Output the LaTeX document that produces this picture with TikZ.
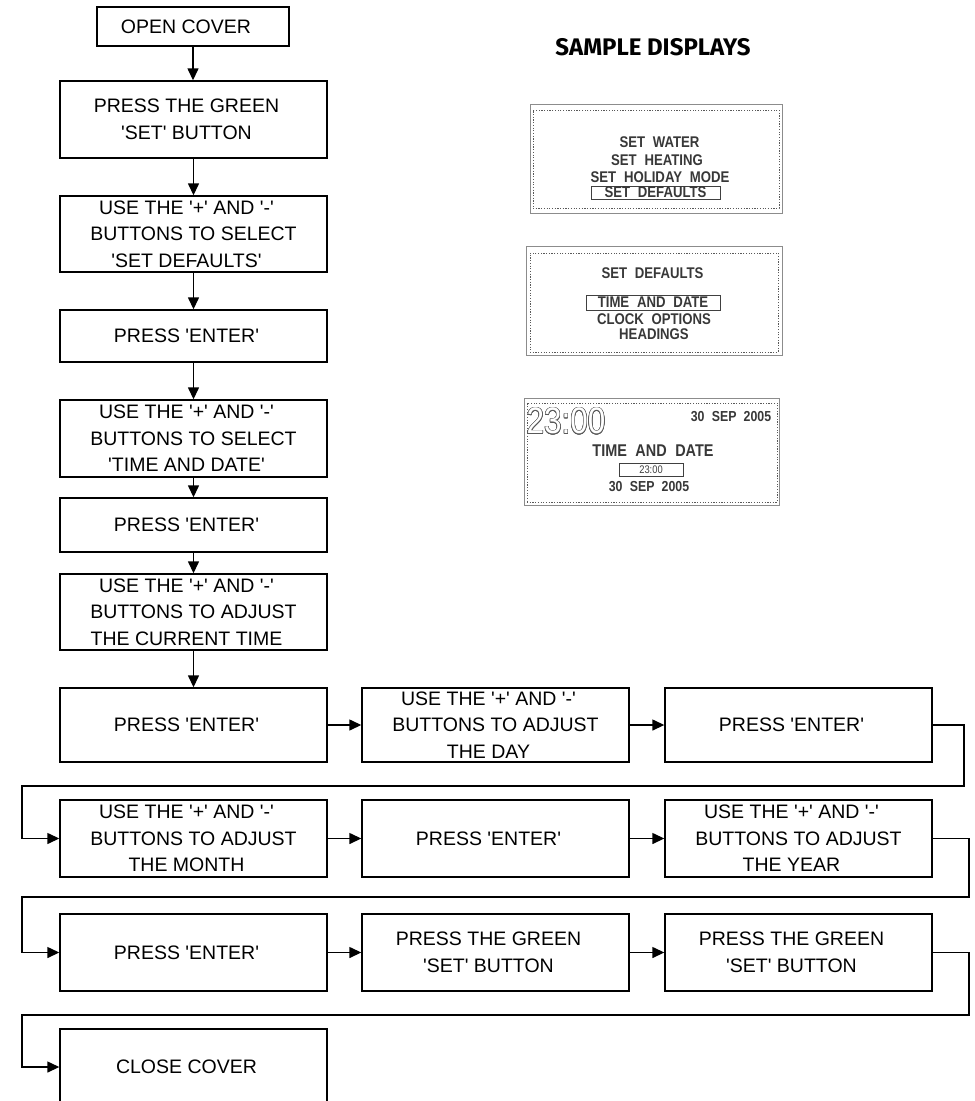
\documentclass[tikz,border=0pt]{standalone}
\usepackage{fontspec}
\setmainfont{Liberation Sans}[Ligatures=TeXOff]
\newfontfamily\lcd{Liberation Sans}[Ligatures=TeXOff]
\newfontfamily\lcdn{Liberation Sans}[Ligatures=TeXOff,FakeStretch=0.85]
\newfontfamily\headfont{Fira Sans}[Ligatures=TeXOff]
\usepackage{contour}
\contourlength{0.6pt}
\usetikzlibrary{arrows.meta}
\newcommand\tsp{\hspace*{14pt}}
\begin{document}
\begin{tikzpicture}[x=1pt,y=-1pt,
  box/.style={draw, line width=1.4pt, minimum width=267pt, inner sep=0pt, align=center,
    font=\fontsize{19.5}{26.5}\selectfont},
  arr/.style={line width=1.4pt, -{Triangle[length=12pt,width=11pt]}},
  frameout/.style={draw=black!45, line width=0.8pt, inner sep=0pt},
  framein/.style={draw=black!65, line width=0.9pt, dash pattern=on 1.2pt off 1.5pt, inner sep=0pt},
  lcdtxt/.style={inner sep=0pt, text=black!78, font=\lcdn\bfseries\fontsize{15.5}{15.5}\selectfont},
  lcdntxt/.style={inner sep=0pt, text=black!78, font=\lcdn\bfseries\fontsize{14.5}{14.5}\selectfont},
  hl/.style={draw=black!75, line width=0.9pt, inner sep=0pt}
]
\useasboundingbox (0,0) rectangle (975,1101);
\clip (0,0) rectangle (975,1101);
\fill[white] (0,0) rectangle (975,1101);

% ---- left column ----
\node[box, minimum width=192pt, minimum height=39pt] (b1) at (193,26.5) {OPEN COVER\tsp};
\node[box, minimum height=77pt] (b2) at (193.5,119.5) {PRESS THE GREEN\tsp\\'SET' BUTTON\tsp};
\node[box, minimum height=76pt] (b3) at (193.5,234) {USE THE '+' AND '-'\tsp\\BUTTONS TO SELECT\tsp\\'SET DEFAULTS'\tsp};
\node[box, minimum height=52pt] (b4) at (193.5,336) {PRESS 'ENTER'\tsp};
\node[box, minimum height=77pt] (b5) at (193.5,438.5) {USE THE '+' AND '-'\tsp\\BUTTONS TO SELECT\tsp\\'TIME AND DATE'\tsp};
\node[box, minimum height=54pt] (b6) at (193.5,525) {PRESS 'ENTER'\tsp};
\node[box, minimum height=76pt] (b7) at (193.5,612) {USE THE '+' AND '-'\tsp\\BUTTONS TO ADJUST\tsp\\THE CURRENT TIME\tsp};

% ---- rows ----
\node[box, minimum height=74pt] (r1a) at (193.5,725) {PRESS 'ENTER'\tsp};
\node[box, minimum height=74pt] (r1b) at (495.5,725) {USE THE '+' AND '-'\tsp\\BUTTONS TO ADJUST\tsp\\THE DAY\tsp};
\node[box, minimum height=74pt] (r1c) at (798.5,725) {PRESS 'ENTER'\tsp};

\node[box, minimum height=77pt] (r2a) at (193.5,838.5) {USE THE '+' AND '-'\tsp\\BUTTONS TO ADJUST\tsp\\THE MONTH\tsp};
\node[box, minimum height=77pt] (r2b) at (495.5,838.5) {PRESS 'ENTER'\tsp};
\node[box, minimum height=77pt] (r2c) at (798.5,838.5) {USE THE '+' AND '-'\tsp\\BUTTONS TO ADJUST\tsp\\THE YEAR\tsp};

\node[box, minimum height=77pt] (r3a) at (193.5,952.5) {PRESS 'ENTER'\tsp};
\node[box, minimum height=77pt] (r3b) at (495.5,952.5) {PRESS THE GREEN\tsp\\'SET' BUTTON\tsp};
\node[box, minimum height=77pt] (r3c) at (798.5,952.5) {PRESS THE GREEN\tsp\\'SET' BUTTON\tsp};

\node[box, minimum height=76pt] (r4) at (193.5,1067) {CLOSE COVER\tsp};

% ---- connectors ----
\draw[arr] (b1.south) -- (b1.south |- b2.north);
\draw[arr] (b2) -- (b3);
\draw[arr] (b3) -- (b4);
\draw[arr] (b4) -- (b5);
\draw[arr] (b5) -- (b6);
\draw[arr] (b6) -- (b7);
\draw[arr] (b7) -- (r1a);
\draw[arr] (r1a) -- (r1b);
\draw[arr] (r1b) -- (r1c);
\draw[arr] (r1c.east) -- (964,725) -- (964,786) -- (22,786) -- (22,838.5) -- (r2a.west);
\draw[arr] (r2a) -- (r2b);
\draw[arr] (r2b) -- (r2c);
\draw[arr] (r2c.east) -- (969,838.5) -- (969,897) -- (22,897) -- (22,952.5) -- (r3a.west);
\draw[arr] (r3a) -- (r3b);
\draw[arr] (r3b) -- (r3c);
\draw[arr] (r3c.east) -- (969,952.5) -- (969,1015) -- (22,1015) -- (22,1067) -- (r4.west);

% ---- sample displays ----
\node[font=\headfont\bfseries\fontsize{24}{24}\selectfont, inner sep=0pt] (title) at (653,47) {SAMPLE DISPLAYS};

% display 1
\node[frameout, minimum width=252pt, minimum height=109pt] (d1o) at (656,158.5) {};
\node[framein, minimum width=246pt, minimum height=98pt] (d1i) at (656,159) {};
\node[lcdtxt] (d1a) at (659.5,142.5) {SET\enspace WATER};
\node[lcdtxt] (d1b) at (657,160) {SET\enspace HEATING};
\node[lcdtxt] (d1c) at (660,177.5) {SET\enspace HOLIDAY\enspace MODE};
\node[lcdtxt, hl, minimum width=129pt, minimum height=13pt] (d1d) at (655.5,192.5) {SET\enspace DEFAULTS};

% display 2
\node[frameout, minimum width=256pt, minimum height=109pt] (d2o) at (654,300.5) {};
\node[framein, minimum width=248pt, minimum height=99pt] (d2i) at (654,302.5) {};
\node[lcdtxt] (d2a) at (652.5,273) {SET\enspace DEFAULTS};
\node[lcdtxt, hl, minimum width=134pt, minimum height=15pt] (d2b) at (653,302.5) {TIME\enspace AND\enspace DATE};
\node[lcdtxt] (d2c) at (654,319.5) {CLOCK\enspace OPTIONS};
\node[lcdtxt] (d2d) at (654,334) {HEADINGS};

% display 3
\node[frameout, minimum width=255pt, minimum height=107pt] (d3o) at (651.5,451.5) {};
\node[framein, minimum width=250pt, minimum height=99pt] (d3i) at (652,452.5) {};
\node[inner sep=0pt, text=white, font=\lcdn\fontsize{37}{37}\selectfont] (d3big) at (566,421.5) {\contour{black!65}{23:00}};
\node[lcdntxt] (d3date) at (731,417) {30\enspace SEP\enspace 2005};
\node[lcdntxt, font=\lcdn\bfseries\fontsize{17}{17}\selectfont] (d3a) at (653,451) {TIME\enspace AND\enspace DATE};
\node[hl, text=black!75, minimum width=64pt, minimum height=13pt, font=\lcdn\fontsize{11}{11}\selectfont] (d3b) at (651,469.5) {23:00};
\node[lcdntxt] (d3c) at (649,487) {30\enspace SEP\enspace 2005};
\end{tikzpicture}
\end{document}
